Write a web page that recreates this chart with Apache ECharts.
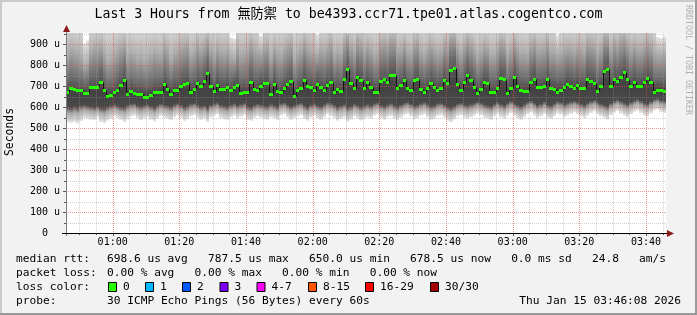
<!DOCTYPE html>
<html><head><meta charset="utf-8">
<script src="https://cdn.jsdelivr.net/npm/echarts@6/dist/echarts.min.js"></script>
<style>html,body{margin:0;padding:0;background:#f2f2f2}#c{width:697px;height:315px}</style>
</head><body><div id="c"></div>
<script>
// ---------- data ----------
const startTime = '00:46';
const xTickLabels = ['01:00','01:20','01:40','02:00','02:20','02:40','03:00','03:20','03:40'];
const yTickValues = [0,100,200,300,400,500,600,700,800,900];
const yMax = 954;

const median = [
673,692,687,680,680,666,666,695,697,697,722,680,655,660,671,684,704,731,664,678,667,661,661,650,650,660,674,671,671,711,
688,663,680,680,700,711,717,674,685,716,703,727,763,700,676,708,688,688,697,682,695,708,669,674,674,722,688,684,703,714,
717,663,711,676,673,690,711,724,655,680,692,731,703,695,684,709,697,684,708,720,674,688,676,736,782,716,690,744,731,690,
720,697,673,673,727,733,720,755,755,690,704,731,690,680,728,735,687,674,693,716,697,680,692,728,714,776,787,711,680,720,
755,728,697,667,687,720,716,671,671,693,739,735,666,693,743,703,680,676,676,720,736,695,695,700,736,692,687,674,684,697,
713,703,690,708,693,693,736,725,716,676,701,774,784,700,736,724,744,766,735,703,722,701,703,720,741,722,674,680,680,679
];
const smokeLo = [
528,525,530,522,534,548,545,540,538,552,530,524,536,544,556,548,540,530,542,555,560,548,538,546,552,540,532,545,558,550,
545,538,552,560,548,535,542,556,562,550,540,546,530,552,558,566,548,542,538,552,560,546,555,562,540,536,548,556,550,544,
540,552,546,538,560,565,552,540,548,556,562,544,536,550,558,546,540,552,566,558,548,536,544,552,530,540,556,548,536,545,
552,546,560,566,548,540,552,558,545,538,550,562,568,556,542,548,560,566,552,540,546,558,562,550,536,530,542,556,562,550,
544,552,560,570,562,550,546,540,556,566,552,545,560,572,558,548,540,552,566,574,560,548,556,568,550,544,558,570,564,552,
560,568,575,566,556,548,560,572,580,566,556,548,540,562,574,582,570,560,552,566,578,584,572,560,556,570,586,590,578,572
];
const smokeDarkLo = [
602,598,605,600,610,612,608,604,600,606,598,596,604,610,615,608,602,600,612,618,620,610,606,612,616,608,600,610,618,612,
610,604,614,620,612,602,608,618,622,614,606,610,598,614,620,624,612,608,604,614,620,610,616,622,606,602,612,618,614,608,
606,616,610,604,620,624,614,606,612,618,622,610,602,614,620,610,606,616,624,620,612,602,610,616,600,606,618,612,604,610,
616,610,620,624,612,606,614,620,610,604,614,622,626,618,608,612,620,626,616,606,610,620,622,614,604,600,608,618,622,614,
610,616,622,628,622,614,610,606,618,626,616,610,622,630,620,612,606,616,626,632,622,612,618,628,614,610,620,630,626,616,
622,628,632,626,618,612,622,630,636,626,618,612,606,622,632,638,630,622,616,626,634,640,632,622,618,630,640,644,636,632
];
const smokeDarkHi = [
720,735,730,725,718,705,710,740,745,742,770,725,700,705,715,730,755,780,712,722,710,705,708,700,698,706,720,718,722,760,
735,712,728,726,748,760,765,722,732,765,750,775,810,748,722,755,735,733,745,728,742,756,716,720,722,770,735,730,750,762,
765,712,758,722,720,738,760,772,705,728,740,780,750,742,732,756,745,730,756,768,722,735,725,785,830,765,738,792,780,738,
768,745,720,722,775,782,768,802,805,738,752,780,738,728,776,784,735,722,740,765,745,728,740,776,762,825,835,760,728,768,
802,776,745,715,735,768,765,718,720,742,788,782,715,742,792,750,728,724,724,768,785,742,744,748,785,740,735,722,732,745,
762,750,738,756,740,742,785,774,765,724,750,822,832,748,785,772,792,815,784,750,770,748,750,768,790,770,722,728,726,728
];
const smokeUpper = [
850,880,870,860,840,800,810,870,890,880,900,860,820,830,850,870,890,910,840,860,850,830,840,820,830,850,870,860,850,900,
880,830,860,870,890,900,910,850,870,910,880,900,930,880,850,890,870,860,880,840,830,890,850,860,870,910,880,870,860,890,
900,840,890,860,850,880,900,910,830,860,880,920,890,870,860,850,880,870,890,910,850,870,860,920,940,900,870,930,910,870,
900,880,850,860,910,920,900,930,930,870,880,910,870,860,910,920,870,850,880,900,880,860,870,910,890,940,940,890,860,900,
930,910,880,840,870,900,890,850,850,880,920,910,850,880,920,890,860,860,850,900,920,880,880,890,920,870,870,850,860,880,
890,880,870,890,880,870,920,910,900,860,890,940,940,880,920,900,930,940,910,880,900,880,880,900,920,900,860,850,850,860
];
const smokeHi = [
1000,1000,1000,1000,1000,905,918,1000,1000,1000,1000,1000,1000,1000,1000,1000,1000,1000,1000,1000,1000,1000,1000,1000,1000,1000,1000,1000,1000,1000,
1000,1000,1000,1000,1000,1000,1000,1000,1000,1000,1000,1000,1000,1000,1000,1000,1000,1000,1000,932,925,1000,1000,1000,1000,1000,1000,1000,940,1000,
1000,1000,1000,1000,1000,1000,1000,1000,1000,1000,1000,1000,1000,1000,1000,945,1000,1000,1000,1000,1000,1000,1000,1000,960,1000,1000,1000,1000,1000,
1000,1000,1000,1000,1000,1000,1000,1000,1000,1000,1000,1000,1000,1000,1000,1000,1000,1000,1000,1000,1000,1000,1000,1000,1000,1000,1000,1000,1000,1000,
1000,1000,1000,1000,1000,1000,1000,1000,1000,1000,1000,1000,1000,1000,1000,1000,1000,1000,1000,1000,1000,1000,1000,1000,1000,1000,1000,942,1000,1000,
1000,1000,1000,1000,1000,1000,1000,1000,1000,1000,1000,1000,1000,1000,1000,1000,1000,1000,1000,1000,1000,1000,1000,1000,1000,1000,1000,935,930,938
];

const titleText = 'Last 3 Hours from 無防禦 to be4393.ccr71.tpe01.atlas.cogentco.com';
const legendRow1 = [['median rtt:',16],['698.6 us avg   787.5 us max   650.0 us min   678.5 us now   0.0 ms sd   24.8   am/s',107]];
const legendRow2 = [['packet loss:',16],['0.00 % avg   0.00 % max   0.00 % min   0.00 % now',107]];
const lossLabels = ['0','1','2','3','4-7','8-15','16-29','30/30'];
const lossColors = ['#26ff00','#00b8ff','#0059ff','#7e00ff','#ff00ff','#ff5500','#ff0000','#a10000'];
const lossBoxX = [108,145,182,219.5,256.5,308,365,430];
const probeText = '30 ICMP Echo Pings (56 Bytes) every 60s';
const dateText = 'Thu Jan 15 03:46:08 2026';

// ---------- helpers ----------
const MONO = '"DejaVu Sans Mono","Noto Sans CJK TC",monospace';
const LEG = 11.2;
const toMin = s => parseInt(s.slice(0,2),10)*60 + parseInt(s.slice(3,5),10);
const t0 = toMin(startTime);
const xTickPos = xTickLabels.map(l => toMin(l) - t0);
const gridData = [];
for (let m = 50; m - t0 < 180; m += 5) {
  const p = m - t0; if (p <= 0) continue;
  gridData.push([p, 0, (m % 20 === 0) ? 1 : 0]);
}
for (let v = 50; v <= yMax; v += 50) gridData.push([v, 1, v % 100 === 0 ? 1 : 0]);

const smokeData = median.map((_, i) => [i, smokeLo[i], smokeDarkLo[i], smokeDarkHi[i], smokeUpper[i], smokeHi[i]]);
const medData = median.map((v, i) => [i, v, i > 0 ? median[i-1] : v]);

const chart = echarts.init(document.getElementById('c'), null, {renderer:'canvas'});

function txt(text, x, y, size, opts) {
  opts = opts || {};
  return {type:'text', x:x, y:y, rotation: opts.rot || 0, z: 10,
    style:{text:text, x:0, y:0, font: size + 'px ' + MONO, fill: opts.fill || '#000',
      textAlign: opts.align || 'left', textVerticalAlign:'middle', align: opts.align || 'left', verticalAlign:'middle'}};
}
const graphics = [];
graphics.push({type:'rect', shape:{x:0,y:0,width:697,height:2}, style:{fill:'#cbcbcb'}, z:0});
graphics.push({type:'rect', shape:{x:0,y:0,width:2,height:315}, style:{fill:'#cbcbcb'}, z:0});
graphics.push({type:'rect', shape:{x:695,y:0,width:2,height:315}, style:{fill:'#9a9a9a'}, z:0});
graphics.push({type:'rect', shape:{x:0,y:313,width:697,height:2}, style:{fill:'#9a9a9a'}, z:0});
graphics.push(txt(titleText, 348.5, 15, 13.2, {align:'center'}));
graphics.push(txt('Seconds', 10, 132, 11.4, {align:'center', rot: Math.PI/2}));
graphics.push(txt('RRDTOOL / TOBI OETIKER', 688.5, 60, 8.3, {align:'center', rot: -Math.PI/2, fill:'#b0b0b0'}));
legendRow1.forEach(([t,x]) => graphics.push(txt(t, x, 259, LEG)));
legendRow2.forEach(([t,x]) => graphics.push(txt(t, x, 273, LEG)));
graphics.push(txt('loss color:', 16, 287, LEG));
lossLabels.forEach((l, k) => {
  graphics.push({type:'rect', shape:{x:lossBoxX[k]+0.5, y:282.5, width:8, height:9}, style:{fill:lossColors[k], stroke:'#000', lineWidth:1}, z:10});
  graphics.push(txt(l, lossBoxX[k] + 15, 287, LEG));
});
graphics.push(txt('probe:', 16, 301, LEG));
graphics.push(txt(probeText, 107, 301, LEG));
graphics.push(txt(dateText, 681, 301, LEG, {align:'right'}));
graphics.push({type:'line', shape:{x1:66.5,y1:236,x2:66.5,y2:30}, style:{stroke:'#7a7a7a', lineWidth:1}, z:20});
graphics.push({type:'polygon', shape:{points:[[66.5,25],[63,32],[70,32]]}, style:{fill:'#8b1a1a'}, z:20});
graphics.push({type:'line', shape:{x1:62,y1:233.5,x2:668,y2:233.5}, style:{stroke:'#000', lineWidth:1}, z:20});
graphics.push({type:'polygon', shape:{points:[[674,233.5],[667,230],[667,237]]}, style:{fill:'#8b1a1a'}, z:20});

chart.setOption({
  animation:false,
  backgroundColor:'#f2f2f2',
  grid:{left:66, top:33, width:600, height:200, show:true, backgroundColor:'#ffffff', borderWidth:0, containLabel:false},
  xAxis:{type:'value', min:0, max:180, axisLine:{show:false}, axisTick:{show:false}, splitLine:{show:false},
    axisLabel:{customValues: xTickPos, formatter: v => { const k = xTickPos.indexOf(v); return k >= 0 ? xTickLabels[k] : ''; },
      fontFamily: MONO, fontSize:10, color:'#000', margin:4}},
  yAxis:{type:'value', min:0, max:yMax, interval:100, axisLine:{show:false}, axisTick:{show:false}, splitLine:{show:false},
    axisLabel:{formatter: v => yTickValues.indexOf(v) < 0 ? '' : (v === 0 ? '0  ' : v + ' u'),
      fontFamily: MONO, fontSize:10, color:'#000', margin:6}},
  graphic: graphics,
  series:[
    {type:'custom', z:1, data: smokeData, silent:true,
      renderItem: (params, api) => {
        const i = api.value(0), lo = api.value(1), dlo = api.value(2), dhi = api.value(3), up = api.value(4), hi = api.value(5);
        const x0 = Math.round(api.coord([i, 0])[0]), x1 = Math.round(api.coord([i+1, 0])[0]);
        const Y = v => api.coord([i, v])[1];
        const yHi = Y(hi), yLo = Y(lo), H = yLo - yHi;
        const o = v => Math.min(1, Math.max(0, (Y(v) - yHi) / H));
        const stops = [
          {offset:0, color:'#e0e0e0'},
          {offset:o(up), color:'#adadad'},
          {offset:o(dhi), color:'#666666'},
          {offset:o((dhi + dlo) / 2), color:'#424242'},
          {offset:o(dlo), color:'#4a4a4a'},
          {offset:o(dlo - (dlo - lo) * 0.35), color:'#a4a4a4'},
          {offset:1, color:'#e6e6e6'}
        ];
        const cs = params.coordSys;
        const shape = echarts.graphic.clipRectByRect({x:x0, y:yHi, width:x1 - x0, height:H}, {x:cs.x, y:cs.y, width:cs.width, height:cs.height});
        if (!shape) return null;
        return {type:'rect', shape:shape, style:{fill: new echarts.graphic.LinearGradient(0, yHi, 0, yLo, stops, true)}};
      }},
    {type:'custom', z:2, data: gridData, silent:true,
      renderItem: (params, api) => {
        const v = api.value(0), orient = api.value(1), major = api.value(2);
        const cs = params.coordSys;
        const col = major ? 'rgba(230,80,80,0.6)' : 'rgba(150,150,150,0.45)';
        const children = [];
        if (orient === 0) {
          const x = Math.round(api.coord([v, 0])[0]) + 0.5;
          children.push({type:'line', shape:{x1:x, y1:cs.y, x2:x, y2:cs.y + cs.height}, style:{stroke:col, lineWidth:1, lineDash:[1,1]}});
          children.push({type:'line', shape:{x1:x, y1:cs.y + cs.height, x2:x, y2:cs.y + cs.height + (major ? 3 : 2)}, style:{stroke:'#555', lineWidth:1}});
        } else {
          const y = Math.round(api.coord([0, v])[1]) + 0.5;
          children.push({type:'line', shape:{x1:cs.x, y1:y, x2:cs.x + cs.width, y2:y}, style:{stroke:col, lineWidth:1, lineDash:[1,1]}});
          children.push({type:'line', shape:{x1:cs.x - (major ? 3 : 2), y1:y, x2:cs.x, y2:y}, style:{stroke:'#555', lineWidth:1}});
        }
        return {type:'group', children:children};
      }},
    {type:'custom', z:3, data: medData, silent:true,
      renderItem: (params, api) => {
        const i = api.value(0), v = api.value(1), pv = api.value(2);
        const x0 = Math.round(api.coord([i, 0])[0]), x1 = Math.round(api.coord([i+1, 0])[0]);
        const y = Math.round(api.coord([i, v])[1]), yp = Math.round(api.coord([i, pv])[1]);
        return {type:'group', children:[
          {type:'line', shape:{x1:x0 + 0.5, y1:yp + 0.5, x2:x0 + 0.5, y2:y + 0.5}, style:{stroke:'#111', lineWidth:1}},
          {type:'rect', shape:{x:x0, y:y - 1, width:x1 - x0, height:3}, style:{fill:'#26ff00'}}
        ]};
      }}
  ]
});
</script></body></html>
